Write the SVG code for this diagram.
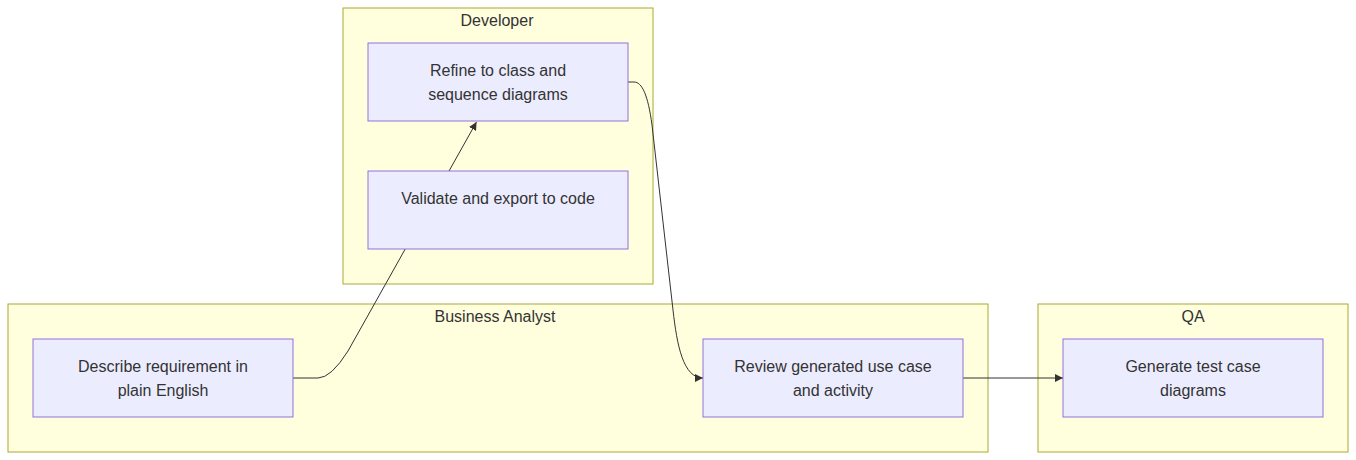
<svg xmlns="http://www.w3.org/2000/svg" width="1356" height="460" viewBox="0 0 1356 460">
<style>
.cluster rect{fill:#ffffde;stroke:#aaaa33;stroke-width:1}
.node rect{fill:#ececff;stroke:#9370db;stroke-width:1}
text{font-family:"Liberation Sans",Arial,sans-serif;font-size:16px;fill:#333;text-anchor:middle;dominant-baseline:central}
.edge{fill:none;stroke:#333;stroke-width:1}
</style>
<defs>
<marker id="arrow" viewBox="0 0 10 10" refX="10" refY="5" markerUnits="userSpaceOnUse" markerWidth="8" markerHeight="8" orient="auto">
<path d="M0,0 L10,5 L0,10 z" fill="#333"/>
</marker>
</defs>
<rect width="1356" height="460" fill="#fff"/>
<g id="cluster-developer" class="cluster">
<rect x="343" y="8" width="310" height="276"/>
<text x="497" y="20">Developer</text>
</g>
<g id="cluster-ba" class="cluster">
<rect x="8" y="304" width="980" height="148"/>
<text x="495" y="316">Business Analyst</text>
</g>
<g id="cluster-qa" class="cluster">
<rect x="1038" y="304" width="310" height="148"/>
<text x="1193" y="316">QA</text>
</g>
<g id="edges">
<path class="edge" d="M293,378 L318,378 Q331,378 348,351 L476.5,122" marker-end="url(#arrow)"/>
<path class="edge" d="M628,82 L634,82 C642,82 648,95 652,125 L673,310 C677,345 683,378 703,378" marker-end="url(#arrow)"/>
<path class="edge" d="M963,378 L1063,378" marker-end="url(#arrow)"/>
</g>
<g id="node-refine" class="node">
<rect x="368" y="43" width="260" height="78"/>
<text x="498" y="70">Refine to class and</text>
<text x="498" y="94">sequence diagrams</text>
</g>
<g id="node-validate" class="node">
<rect x="368" y="171" width="260" height="78"/>
<text x="498" y="198">Validate and export to code</text>
</g>
<g id="node-describe" class="node">
<rect x="33" y="339" width="260" height="78"/>
<text x="163" y="366">Describe requirement in</text>
<text x="163" y="390">plain English</text>
</g>
<g id="node-review" class="node">
<rect x="703" y="339" width="260" height="78"/>
<text x="833" y="366">Review generated use case</text>
<text x="833" y="390">and activity</text>
</g>
<g id="node-generate" class="node">
<rect x="1063" y="339" width="260" height="78"/>
<text x="1193" y="366">Generate test case</text>
<text x="1193" y="390">diagrams</text>
</g>
</svg>
